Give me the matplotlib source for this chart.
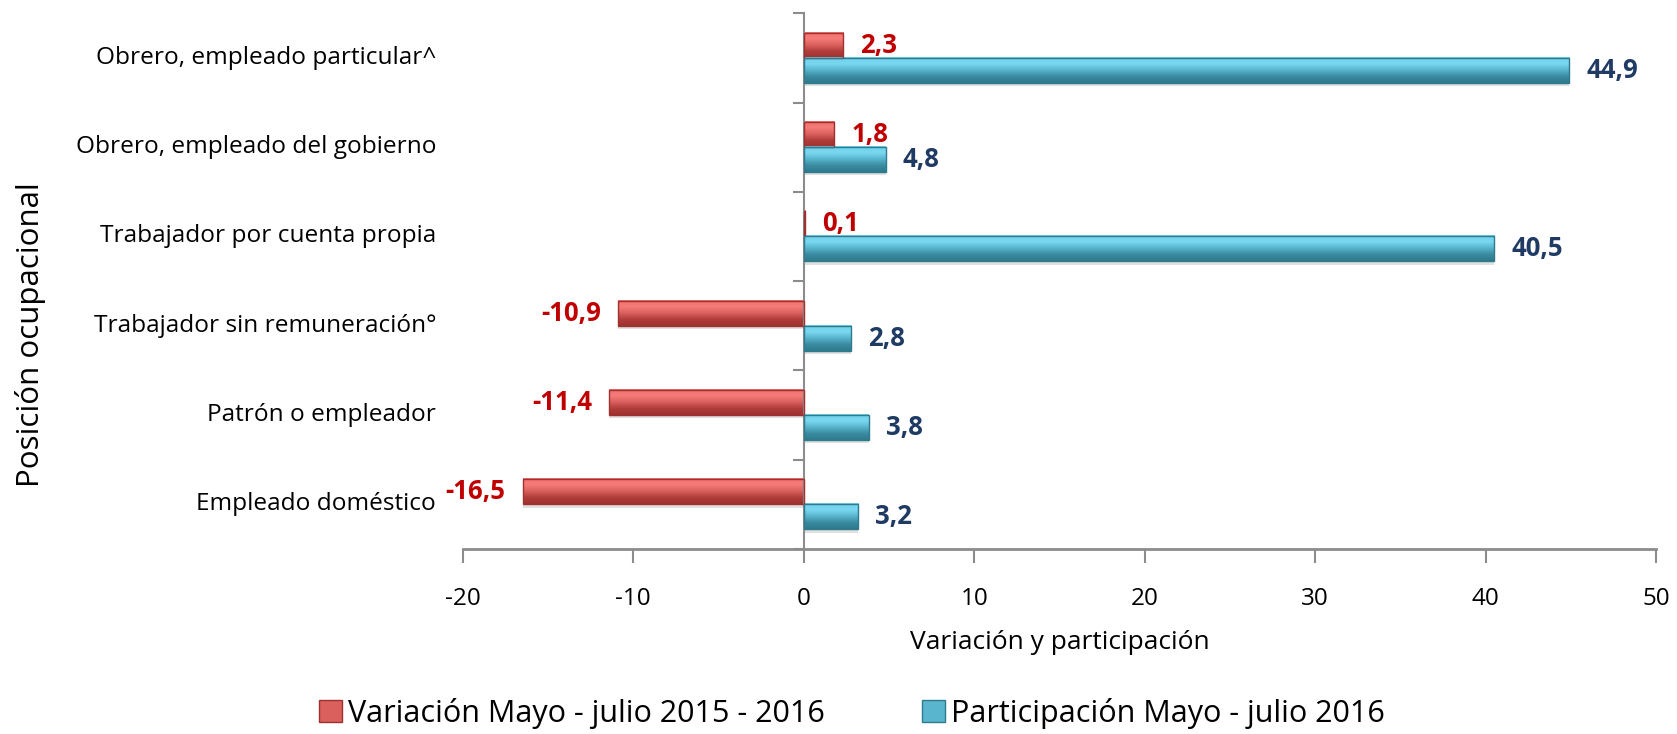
import numpy as np
import matplotlib
matplotlib.use('Agg')
import matplotlib.pyplot as plt
from matplotlib.transforms import blended_transform_factory
from matplotlib.patches import Patch
from matplotlib.colors import LinearSegmentedColormap

plt.rcParams['font.family'] = ['Open Sans', 'DejaVu Sans']

# Data
categories = ['Obrero, empleado particular^', 'Obrero, empleado del gobierno',
              'Trabajador por cuenta propia', 'Trabajador sin remuneración°',
              'Patrón o empleador', 'Empleado doméstico']
variacion = [2.3, 1.8, 0.1, -10.9, -11.4, -16.5]
participacion = [44.9, 4.8, 40.5, 2.8, 3.8, 3.2]
xticks = [-20, -10, 0, 10, 20, 30, 40, 50]

red_cols = ['#9E3230', '#B03C3A', '#D9605D', '#F57B79', '#F27270']
blue_cols = ['#2F7A8D', '#3A8BA0', '#58B5CD', '#7AD8F0', '#70D2EC']

fig = plt.figure(figsize=(16.77, 7.34), dpi=100)
ax = fig.add_axes([0.276, 0.252, 0.7115, 0.73])

y = np.arange(len(categories))[::-1].astype(float)
h = 0.28
off = 0.14
grad = np.linspace(0, 1, 64).reshape(-1, 1)


def bevel_bars(ypos, vals, cols):
    cmap = LinearSegmentedColormap.from_list('bev', cols)
    # soft shadow
    ax.barh(ypos - 0.035, vals, height=h, color='#9A9A9A', alpha=0.3,
            linewidth=0, zorder=1)
    bars = ax.barh(ypos, vals, height=h, color='none', edgecolor=cols[0],
                   linewidth=1.0, zorder=3)
    for b in bars:
        x0, y0 = b.get_x(), b.get_y()
        x1, y1 = x0 + b.get_width(), y0 + b.get_height()
        ax.imshow(grad, cmap=cmap, extent=[x0, x1, y0, y1], origin='lower',
                  aspect='auto', zorder=2, interpolation='bilinear')


bevel_bars(y + off, variacion, red_cols)
bevel_bars(y - off, participacion, blue_cols)


def fmt(v):
    return f'{v:.1f}'.replace('.', ',')


for yi, v in zip(y, variacion):
    if v >= 0:
        ax.text(v + 1.0, yi + off, fmt(v), color='#C00000', fontsize=18.5,
                fontweight='bold', ha='left', va='center', zorder=5)
    else:
        ax.text(v - 1.0, yi + off, fmt(v), color='#C00000', fontsize=18.5,
                fontweight='bold', ha='right', va='center', zorder=5)
for yi, v in zip(y, participacion):
    ax.text(v + 1.0, yi - off, fmt(v), color='#1F3B64', fontsize=18.5,
            fontweight='bold', ha='left', va='center', zorder=5)

# axes
ax.set_xlim(-20, 50)
ax.set_ylim(-0.5, len(categories) - 0.5)
ax.set_xticks(xticks)
ax.set_xticklabels([str(t) for t in xticks], fontsize=17.5)
ax.set_yticks(np.arange(len(categories) + 1) - 0.5)
ax.set_yticklabels([])
ax.tick_params(axis='x', direction='out', length=10, width=1.5, color='#8C8C8C',
               pad=17)
ax.tick_params(axis='y', direction='out', length=8, width=1.5, color='#8C8C8C')
for s in ['top', 'right']:
    ax.spines[s].set_visible(False)
ax.spines['left'].set_position(('data', 0))
ax.spines['left'].set_color('#8C8C8C')
ax.spines['bottom'].set_color('#8C8C8C')
ax.spines['left'].set_linewidth(1.5)
ax.spines['bottom'].set_linewidth(2)

trans = blended_transform_factory(ax.transAxes, ax.transData)
for yi, c in zip(y, categories):
    ax.text(-0.0225, yi, c, transform=trans, ha='right', va='center',
            fontsize=17.6)

ax.set_xlabel('Variación y participación', fontsize=19, labelpad=14)
fig.text(0.018, 1 - 335 / 734, 'Posición ocupacional', rotation=90,
         ha='center', va='center', fontsize=22.5)

handles = [Patch(facecolor=red_cols[2], edgecolor=red_cols[0]),
           Patch(facecolor=blue_cols[2], edgecolor=blue_cols[0])]
fig.legend(handles, ['Variación Mayo - julio 2015 - 2016',
                     'Participación Mayo - julio 2016'],
           loc='center', bbox_to_anchor=(0.508, 0.028), ncol=2, frameon=False,
           fontsize=22, handlelength=0.75, handleheight=0.75, handletextpad=0.2,
           columnspacing=3.2)

fig.savefig('out.png', dpi=100)
